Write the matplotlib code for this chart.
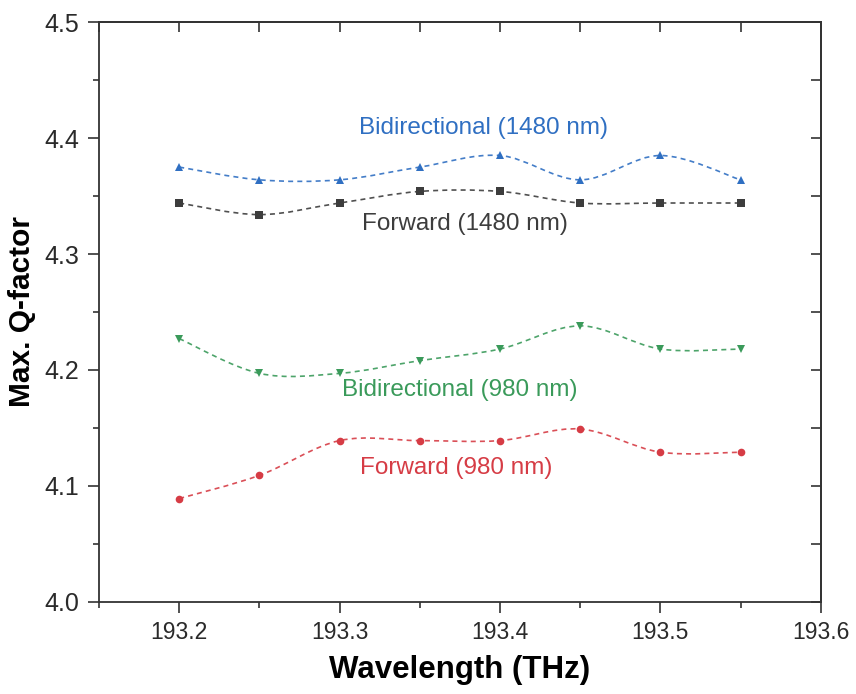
import numpy as np
import matplotlib
matplotlib.use("Agg")
import matplotlib.pyplot as plt
from matplotlib.path import Path
from matplotlib.patches import PathPatch
from matplotlib.ticker import MultipleLocator

plt.rcParams['font.family'] = ['Liberation Sans', 'DejaVu Sans']

freq = [193.20, 193.25, 193.30, 193.35, 193.40, 193.45, 193.50, 193.55]

bidir_1480 = [4.375, 4.364, 4.364, 4.375, 4.385, 4.364, 4.385, 4.364]
fwd_1480 = [4.344, 4.334, 4.344, 4.354, 4.354, 4.344, 4.344, 4.344]
bidir_980 = [4.227, 4.197, 4.197, 4.208, 4.218, 4.238, 4.218, 4.218]
fwd_980 = [4.089, 4.109, 4.139, 4.139, 4.139, 4.149, 4.129, 4.129]

series = [
    ("Bidirectional (1480 nm)", bidir_1480, "#2f6fc2", "^", 193.39, 4.409),
    ("Forward (1480 nm)", fwd_1480, "#3d3d3d", "s", 193.378, 4.326),
    ("Bidirectional (980 nm)", bidir_980, "#3a9a5a", "v", 193.375, 4.183),
    ("Forward (980 nm)", fwd_980, "#d63c45", "o", 193.373, 4.1155),
]


def spline_path(x, y):
    # Catmull-Rom curve written as cubic Bezier segments
    p = np.column_stack([x, y])
    ext = np.vstack([p[0], p, p[-1]])
    verts = [p[0]]
    codes = [Path.MOVETO]
    for i in range(len(p) - 1):
        p0, p1, p2, p3 = ext[i], ext[i + 1], ext[i + 2], ext[i + 3]
        c1 = p1 + (p2 - p0) / 6
        c2 = p2 - (p3 - p1) / 6
        verts += [c1, c2, p2]
        codes += [Path.CURVE4] * 3
    return Path(verts, codes)


fig = plt.figure(figsize=(8.56, 6.94), dpi=100)
ax = fig.add_axes([0.1157, 0.133, 0.8431, 0.835])

for label, vals, color, marker, tx, ty in series:
    patch = PathPatch(spline_path(freq, vals), fill=False, edgecolor=color,
                      linewidth=1.2, linestyle=(0, (3, 2.5)), alpha=0.9)
    ax.add_patch(patch)
    ax.plot(freq, vals, linestyle='none', marker=marker, markersize=5.5,
            color=color, markeredgewidth=0)
    ax.text(tx, ty, label, color=color, fontsize=17.5, ha='center', va='center')

ax.set_xlim(193.15, 193.6)
ax.set_ylim(4.0, 4.5)
ax.xaxis.set_major_locator(MultipleLocator(0.1))
ax.xaxis.set_minor_locator(MultipleLocator(0.05))
ax.yaxis.set_major_locator(MultipleLocator(0.1))
ax.yaxis.set_minor_locator(MultipleLocator(0.05))
ax.xaxis.set_major_formatter(plt.FuncFormatter(lambda v, p: f"{v:.1f}"))
ax.yaxis.set_major_formatter(plt.FuncFormatter(lambda v, p: f"{v:.1f}"))

edge = "#333333"
for s in ax.spines.values():
    s.set_linewidth(1.3)
    s.set_color(edge)

ax.tick_params(which='major', direction='out', length=8, width=1.2,
               color=edge, labelcolor="#2a2a2a", pad=6)
ax.tick_params(axis='x', labelsize=16.5)
ax.tick_params(axis='y', labelsize=18)
ax.tick_params(which='minor', direction='out', length=4, width=1.2, color=edge)

top = ax.secondary_xaxis('top')
top.xaxis.set_major_locator(MultipleLocator(0.1))
top.xaxis.set_minor_locator(MultipleLocator(0.05))
top.tick_params(which='both', direction='in', length=7.5, width=1.2,
                color=edge, labeltop=False)
right = ax.secondary_yaxis('right')
right.yaxis.set_major_locator(MultipleLocator(0.1))
right.yaxis.set_minor_locator(MultipleLocator(0.05))
right.tick_params(which='both', direction='in', length=7.5, width=1.2,
                  color=edge, labelright=False)
for sec in (top, right):
    for s in sec.spines.values():
        s.set_linewidth(1.3)
        s.set_color(edge)

ax.set_xlabel("Wavelength (THz)", fontsize=22.5, fontweight='bold', labelpad=8)
ax.set_ylabel("Max. Q-factor", fontsize=21.5, fontweight='bold', labelpad=6)

fig.savefig("out.png", dpi=100)
